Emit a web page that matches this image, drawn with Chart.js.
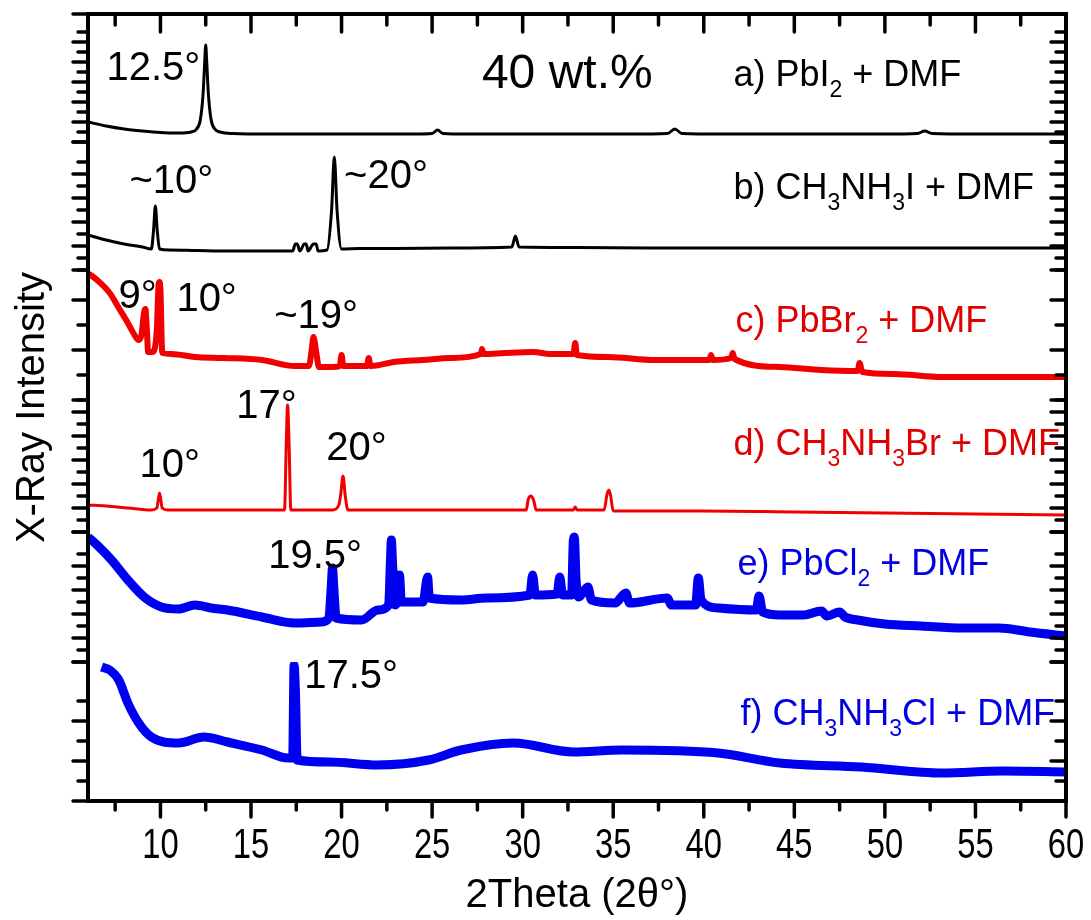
<!DOCTYPE html>
<html>
<head>
<meta charset="utf-8">
<script src="https://cdn.jsdelivr.net/npm/chart.js@4.4.1/dist/chart.umd.min.js"></script>
<style>
  html, body { margin: 0; padding: 0; background: #fff; }
  #wrap { width: 1091px; height: 920px; }
</style>
</head>
<body>
<div id="wrap"><canvas id="xrd"></canvas></div>
<script>
// XRD patterns, 2theta (deg) and intensity (a.u.)
const aX = [6.0, 7, 8, 9, 10, 11, 11.7, 12.0, 12.2, 12.35, 12.45, 12.5, 12.55, 12.65, 12.8, 13.0, 13.3, 14, 16, 18, 20, 22, 24, 25.0, 25.3, 25.6, 27, 30, 33, 36, 38.0, 38.4, 38.8, 41, 44, 47, 50, 51.8, 52.2, 52.6, 55, 58, 60];
const aY = [20, 16, 13, 11, 9.5, 9, 10, 13, 22, 47, 82, 97, 82, 47, 22, 13, 10, 8.5, 8, 8, 8, 8, 8, 8.5, 12, 8.5, 8, 8, 8, 8, 8.5, 13, 8.5, 8, 8, 8, 8, 8.5, 11, 8.5, 8, 8, 8];

const bX = [6.0, 7, 8, 9, 9.5, 9.62, 9.72, 9.82, 9.95, 10.5, 12, 14, 16, 17.3, 17.45, 17.55, 17.7, 17.95, 18.05, 18.15, 18.45, 18.6, 18.7, 19.2, 19.45, 19.6, 19.75, 20.0, 21, 23, 26, 29.4, 29.6, 29.8, 33, 37, 42, 47, 52, 56, 60];
const bY = [35, 30, 26, 23, 21, 40, 64, 40, 21, 20, 19.5, 19, 19, 19, 26, 26, 19, 26, 26, 19, 26, 26, 19, 20, 60, 113, 60, 21, 21.5, 21.5, 22, 23, 34, 23, 22.5, 22, 22, 22, 22, 22, 22];

const cX = [6.0, 6.5, 7.2, 7.7, 8.2, 8.5, 8.8, 8.95, 9.1, 9.17, 9.25, 9.32, 9.55, 9.8, 9.9, 9.95, 10.0, 10.1, 10.6, 11.9, 13.5, 15.6, 17.4, 18.2, 18.35, 18.45, 18.6, 18.75, 19.5, 19.9, 20.0, 20.1, 21.4, 21.5, 21.6, 22.9, 24.5, 26.0, 27.7, 27.75, 27.85, 29, 30.6, 31.5, 32.8, 32.9, 33.0, 34.7, 37.3, 39.0, 40.3, 40.4, 40.5, 41.5, 41.6, 41.7, 44.2, 46.5, 48.5, 48.6, 48.75, 50.5, 53.2, 56.5, 60];
const cY = [127, 120, 107, 92, 77, 67, 60, 65, 88, 91, 70, 48, 48, 70, 116, 118, 110, 47, 46, 43, 42, 40, 34, 34, 50, 63, 48, 33, 33, 34, 45, 34, 34, 42, 34, 38, 40, 42, 46, 51, 46, 47, 48, 46, 46, 57, 45, 43, 40, 40, 40, 45, 40, 42, 47, 41, 33, 30, 29, 37, 28, 26, 23, 23, 23];

const dX = [6.0, 7, 8.2, 9.5, 9.8, 9.95, 10.1, 10.4, 13, 16.85, 16.95, 17.02, 17.1, 17.2, 19.5, 19.85, 19.95, 20.08, 20.2, 20.35, 25, 30.2, 30.3, 30.45, 30.6, 30.75, 32.8, 32.9, 33.0, 34.5, 34.65, 34.75, 34.85, 35.0, 40, 45, 50, 55, 60];
const dY = [27, 26, 24, 22, 24, 39, 24, 22, 22, 22, 90, 127, 90, 22, 22, 27, 37, 56, 37, 22, 22, 22, 32, 36, 32, 22, 22, 25, 22, 22, 37, 42, 37, 21, 21, 20, 19, 18, 17];

const eX = [6.0, 6.5, 7.3, 8.2, 9.1, 10.05, 11.0, 11.9, 12.8, 13.7, 15.6, 17.4, 18.9, 19.3, 19.42, 19.5, 19.58, 19.7, 21.1, 22.0, 22.6, 22.7, 22.75, 22.82, 22.95, 23.1, 23.2, 23.3, 24.5, 24.7, 24.75, 24.85, 26.6, 28, 30.4, 30.55, 30.7, 31.9, 32.05, 32.2, 32.7, 32.8, 32.85, 32.95, 33.1, 33.6, 33.8, 35.1, 35.7, 35.9, 38.0, 38.2, 39.55, 39.7, 39.85, 40.8, 42.9, 43.05, 43.25, 44.2, 45.5, 46.5, 46.8, 47.5, 47.8, 48.5, 50, 52, 54.3, 56.3, 58, 60];
const eY = [125, 117, 102, 82, 65, 55, 53, 57, 54, 52, 45, 39, 40, 44, 72, 94, 72, 44, 42, 52, 57, 102, 122, 97, 57, 62, 87, 60, 60, 82, 85, 64, 62, 64, 67, 87, 67, 68, 85, 67, 67, 122, 125, 82, 65, 75, 62, 59, 69, 59, 64, 57, 57, 84, 62, 54, 52, 66, 50, 47, 47, 51, 46, 50, 45, 42, 38, 36, 34, 34, 30, 26];

const fX = [6.75, 7.2, 7.7, 8.2, 8.8, 9.5, 11.0, 12.4, 13.7, 15.6, 17.05, 17.3, 17.38, 17.45, 17.55, 19.3, 22.0, 24.8, 26.6, 29.5, 32.8, 35.5, 40.8, 44.2, 48.7, 53.2, 56.5, 60];
const fY = [134, 131, 121, 98, 78, 64, 58, 64, 59, 51, 43, 43, 136, 111, 41, 39, 36, 41, 51, 58, 49, 51, 48, 38, 34, 28, 30, 29];

// axis ticks
const xTicks = [10, 15, 20, 25, 30, 35, 40, 45, 50, 55, 60];
const xMinorTicks = [7.5, 12.5, 17.5, 22.5, 27.5, 32.5, 37.5, 42.5, 47.5, 52.5, 57.5];

// layout of the stacked panels (top to bottom)
const panelIds = ['ya', 'yb', 'yc', 'yd', 'ye', 'yf'];
const panelMax = [128, 128, 130, 132, 130, 139];
const panelStep = [10, 12, 25, 12, 12, 20];

const RED = '#f00000';
const BLUE = '#0000f0';

const series = [
  { x: aX, y: aY, axis: 'ya', color: '#000', width: 3 },
  { x: bX, y: bY, axis: 'yb', color: '#000', width: 3 },
  { x: cX, y: cY, axis: 'yc', color: RED, width: 6 },
  { x: dX, y: dY, axis: 'yd', color: RED, width: 3 },
  { x: eX, y: eY, axis: 'ye', color: BLUE, width: 9 },
  { x: fX, y: fY, axis: 'yf', color: BLUE, width: 9 }
];

// peak notes and sample names, placed in data coordinates of each panel
const notes = [
  { text: '12.5°', axis: 'ya', x: 7.02, y: 62 },
  { text: '40 wt.%', axis: 'ya', x: 27.75, y: 54, size: 48 },
  { text: '~10°', axis: 'yb', x: 8.29, y: 77 },
  { text: '~20°', axis: 'yb', x: 20.14, y: 82 },
  { text: '9°', axis: 'yc', x: 7.68, y: 92 },
  { text: '10°', axis: 'yc', x: 10.88, y: 89 },
  { text: '~19°', axis: 'yc', x: 16.28, y: 72 },
  { text: '17°', axis: 'yd', x: 14.19, y: 114 },
  { text: '10°', axis: 'yd', x: 8.84, y: 55 },
  { text: '20°', axis: 'yd', x: 19.15, y: 72 },
  { text: '19.5°', axis: 'ye', x: 15.95, y: 94 },
  { text: '17.5°', axis: 'yf', x: 17.94, y: 113 }
];
const names = [
  { text: 'a) PbI_2 + DMF', axis: 'ya', x: 41.64, y: 56, color: '#000' },
  { text: 'b) CH_3NH_3I + DMF', axis: 'yb', x: 41.64, y: 71, color: '#000' },
  { text: 'c) PbBr_2 + DMF', axis: 'yc', x: 41.75, y: 68, color: '#e00000' },
  { text: 'd) CH_3NH_3Br + DMF', axis: 'yd', x: 41.64, y: 77, color: '#e00000' },
  { text: 'e) PbCl_2 + DMF', axis: 'ye', x: 41.86, y: 87, color: '#0000e0' },
  { text: 'f) CH_3NH_3Cl + DMF', axis: 'yf', x: 42.03, y: 76, color: '#0000e0' }
];

const FONT = '"Liberation Sans", Arial, sans-serif';

// text with _N subscripts
function drawRich(ctx, str, x, y, size) {
  let cx = x;
  str.split(/(_\d)/).forEach(part => {
    if (!part) return;
    const sub = part[0] === '_';
    const t = sub ? part.slice(1) : part;
    ctx.font = (sub ? Math.round(size * 0.64) : size) + 'px ' + FONT;
    ctx.fillText(t, cx, sub ? y + size * 0.3 : y);
    cx += ctx.measureText(t).width;
  });
}

const framePlugin = {
  id: 'frame',
  afterDatasetsDraw(chart) {
    const { ctx, chartArea: ca, scales } = chart;
    const line = (x1, y1, x2, y2) => { ctx.beginPath(); ctx.moveTo(x1, y1); ctx.lineTo(x2, y2); ctx.stroke(); };
    ctx.save();
    ctx.strokeStyle = '#000';
    ctx.lineCap = 'round';
    ctx.lineWidth = 3.5;
    const xs = scales.x;
    xs.ticks.forEach(t => {
      const p = xs.getPixelForValue(t.value);
      line(p, ca.bottom, p, ca.bottom + 16);
      line(p, ca.top, p, ca.top + 18);
    });
    xMinorTicks.forEach(v => {
      const p = xs.getPixelForValue(v);
      line(p, ca.bottom, p, ca.bottom + 9);
      line(p, ca.top, p, ca.top + 11);
    });
    panelIds.forEach(id => {
      const s = scales[id];
      s.ticks.forEach((t, i) => {
        const p = s.getPixelForValue(t.value);
        const len = i % 2 === 0 ? 15 : 10;
        line(ca.left - len, p, ca.left, p);
        line(ca.right, p, ca.right - len, p);
      });
    });
    ctx.lineCap = 'butt';
    ctx.lineWidth = 4;
    ctx.strokeRect(ca.left, ca.top, ca.right - ca.left, ca.bottom - ca.top);
    ctx.restore();
  },
  afterDraw(chart) {
    const { ctx, chartArea: ca, scales } = chart;
    ctx.save();
    ctx.textBaseline = 'alphabetic';
    ctx.textAlign = 'left';
    ctx.fillStyle = '#000';
    notes.forEach(n => {
      ctx.font = (n.size || 40) + 'px ' + FONT;
      ctx.fillText(n.text, scales.x.getPixelForValue(n.x), scales[n.axis].getPixelForValue(n.y));
    });
    names.forEach(n => {
      ctx.fillStyle = n.color;
      drawRich(ctx, n.text, scales.x.getPixelForValue(n.x), scales[n.axis].getPixelForValue(n.y), 36);
    });
    // x tick labels in a condensed face, taken from the x scale's ticks
    ctx.fillStyle = '#000';
    ctx.font = '42px ' + FONT;
    ctx.textAlign = 'center';
    scales.x.ticks.forEach(t => {
      ctx.save();
      ctx.translate(scales.x.getPixelForValue(t.value), ca.bottom + 57);
      ctx.scale(0.78, 1);
      ctx.fillText(String(t.value), 0, 0);
      ctx.restore();
    });
    // shared y title across the stacked panels
    ctx.font = '40px ' + FONT;
    ctx.translate(44, (ca.top + ca.bottom) / 2);
    ctx.rotate(-Math.PI / 2);
    ctx.fillText('X-Ray Intensity', 0, 0);
    ctx.restore();
  }
};

const yScales = {};
panelIds.forEach((id, i) => {
  yScales[id] = {
    type: 'linear',
    position: 'left',
    stack: 'xrd',
    stackWeight: panelMax[i],
    weight: panelIds.length - i,
    min: 0,
    max: panelMax[i],
    afterFit: s => { s.width = 0; },
    grid: { display: false, drawTicks: false },
    border: { display: false },
    ticks: { display: false, stepSize: panelStep[i] }
  };
});

new Chart(document.getElementById('xrd'), {
  type: 'line',
  data: {
    datasets: series.map(s => ({
      data: s.x.map((v, i) => ({ x: v, y: s.y[i] })),
      yAxisID: s.axis,
      borderColor: s.color,
      borderWidth: s.width,
      borderJoinStyle: 'round',
      cubicInterpolationMode: 'monotone',
      pointRadius: 0,
      fill: false
    }))
  },
  options: {
    responsive: true,
    maintainAspectRatio: false,
    animation: false,
    devicePixelRatio: 1,
    layout: { padding: { left: 88, right: 25, top: 14, bottom: 0 } },
    plugins: { legend: { display: false }, tooltip: { enabled: false } },
    scales: Object.assign({
      x: {
        type: 'linear',
        min: 6,
        max: 60,
        afterBuildTicks: s => { s.ticks = xTicks.map(v => ({ value: v })); },
        afterFit: s => { s.height = 119; s.paddingLeft = 0; s.paddingRight = 0; },
        grid: { display: false, drawTicks: false },
        border: { display: false },
        ticks: { display: false },
        title: {
          display: true,
          text: '2Theta (2θ°)',
          color: '#000',
          font: { family: FONT, size: 40 },
          padding: { top: 0, bottom: 0 }
        }
      }
    }, yScales)
  },
  plugins: [framePlugin]
});
</script>
</body>
</html>
